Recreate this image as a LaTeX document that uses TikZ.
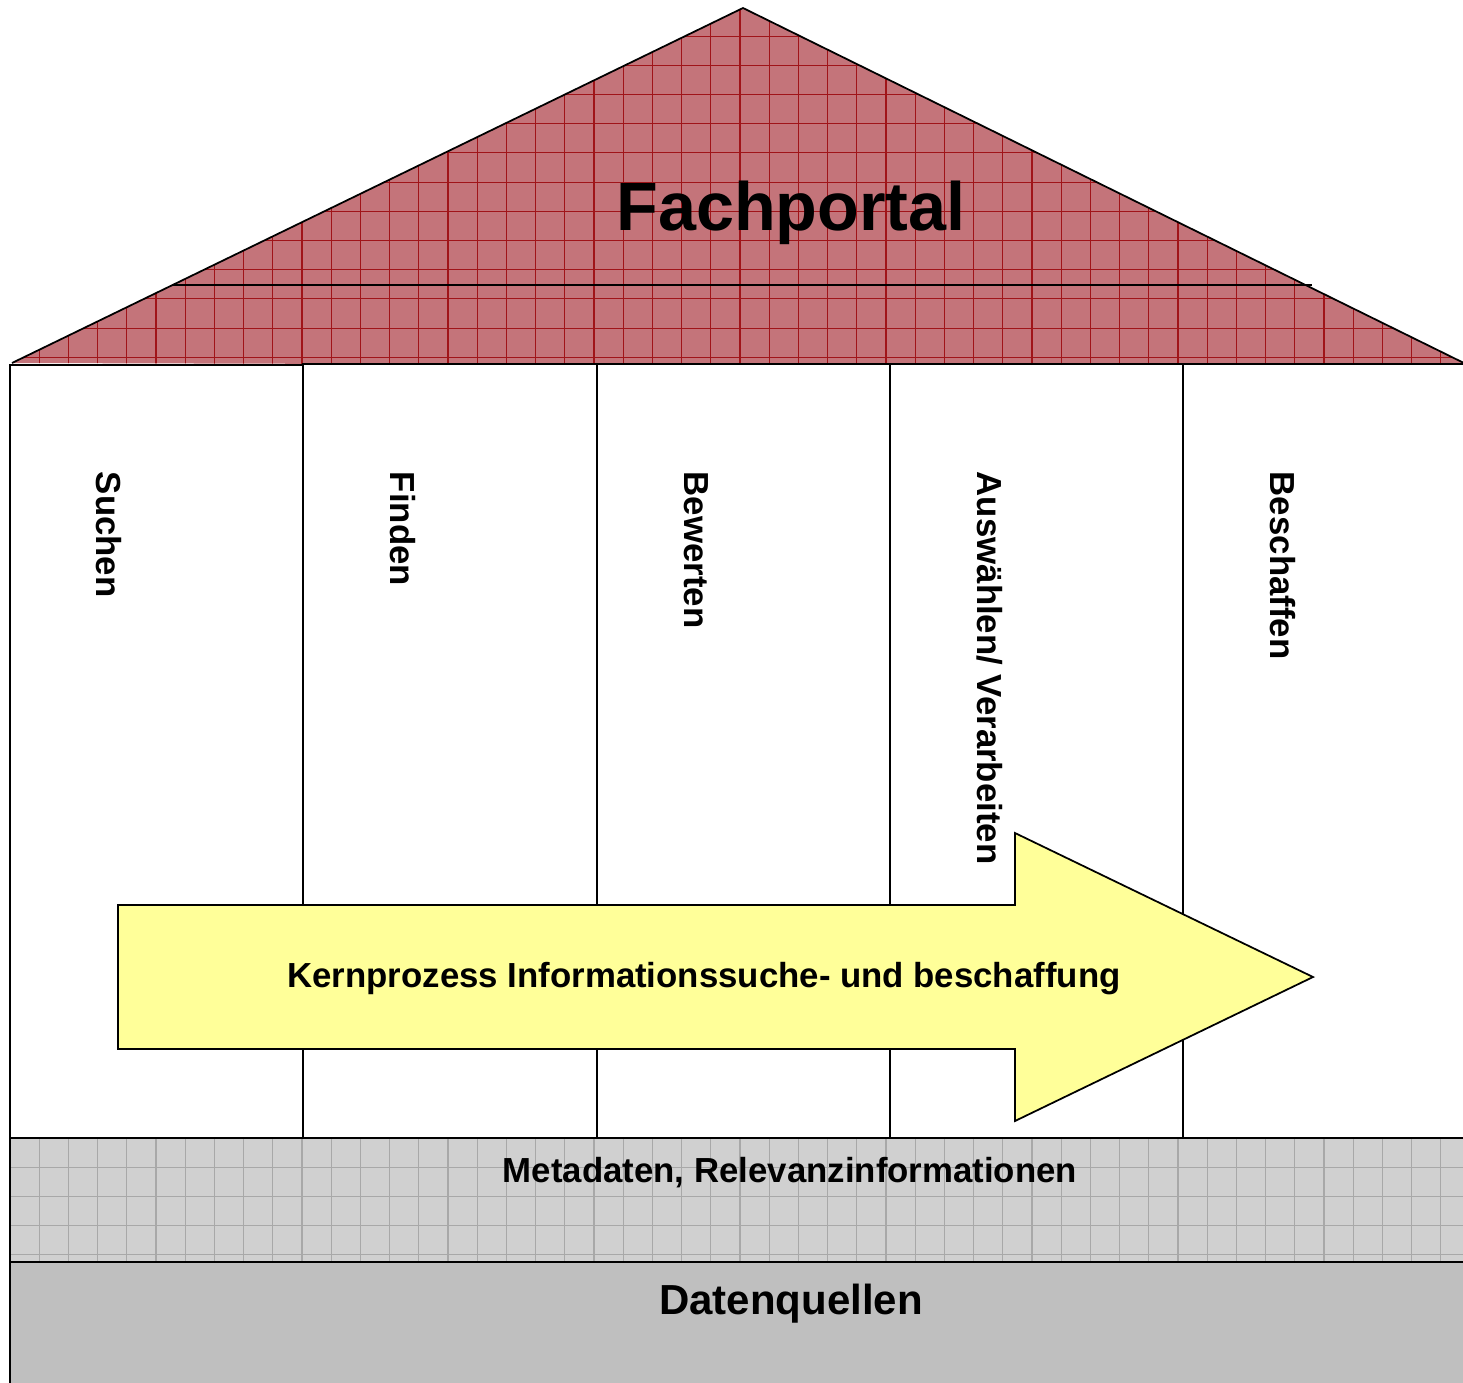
\documentclass[tikz,border=0pt]{standalone}
\usepackage{fontspec}
\setmainfont{Liberation Sans}
\usetikzlibrary{positioning,calc}
\definecolor{roofred}{RGB}{196,116,122}
\definecolor{roofline}{RGB}{160,20,25}
\definecolor{metagray}{RGB}{208,208,208}
\definecolor{metaline}{RGB}{168,168,168}
\definecolor{quellgray}{RGB}{191,191,191}
\definecolor{arrowyellow}{RGB}{255,255,153}
\begin{document}
\begin{tikzpicture}[x=0.02cm,y=-0.02cm,line width=1pt,
    label/.style={font=\fontsize{19.8}{23}\selectfont\bfseries,inner sep=0pt},
    pillarlabel/.style={label,rotate=-90,anchor=base west},
    pillar/.style={draw,fill=white},
    roofgrid/.style={roofline,line width=0.6pt},
    metagrid/.style={metaline,line width=0.6pt}]
  \useasboundingbox (0,0) rectangle (1463,1382);
  % roof
  \coordinate (apex) at (743,8);
  \coordinate (left eave) at (12,363);
  \coordinate (right eave) at (1472,367);
  \coordinate (beam left) at ($(apex)!0.78!(left eave)$);
  \coordinate (beam right) at ($(apex)!0.78!(right eave)$);
  \fill[roofred] (left eave) -- (apex) -- (right eave) -- cycle;
  \begin{scope}
    \clip (left eave) -- (apex) -- (right eave) -- cycle;
    \foreach \i in {0,...,50}
      \draw[roofgrid] ({10+29.2*\i},0) -- ({10+29.2*\i},370);
    \foreach \i in {0,...,12}
      \draw[roofgrid] (0,{357.3-29.2*\i}) -- (1470,{357.3-29.2*\i});
  \end{scope}
  \draw (left eave) -- (apex) -- (right eave);
  \draw (beam left) -- (beam left -| beam right);
  \node[label,font=\fontsize{38.9}{44}\selectfont\bfseries] (Fachportal) at (791,213) {Fachportal};
  % pillars
  \draw[pillar] (10,365) rectangle (303,1138);
  \draw[pillar] (303,364) rectangle (597,1138);
  \draw[pillar] (597,364) rectangle (890,1138);
  \draw[pillar] (890,364) rectangle (1183,1138);
  \draw[pillar] (1183,364) rectangle (1470,1138);
  \node[pillarlabel] (Suchen) at (96,471) {Suchen};
  \node[pillarlabel] (Finden) at (390,471) {Finden};
  \node[pillarlabel] (Bewerten) at (684,471) {Bewerten};
  \node[pillarlabel] (Auswaehlen) at (977,471) {Auswählen/ Verarbeiten};
  \node[pillarlabel] (Beschaffen) at (1270,471) {Beschaffen};
  % process arrow
  \draw[fill=arrowyellow] (118,905) -- (1015,905) -- (1015,833) -- (1313,977)
    -- (1015,1121) -- (1015,1049) -- (118,1049) -- cycle;
  \node[label] (Kernprozess) at (704,979) {Kernprozess Informationssuche- und beschaffung};
  % foundation
  \fill[metagray] (10,1138) rectangle (1470,1262);
  \begin{scope}
    \clip (10,1138) rectangle (1470,1262);
    \foreach \i in {0,...,50}
      \draw[metagrid] ({10+29.2*\i},1138) -- ({10+29.2*\i},1262);
    \foreach \i in {1,...,4}
      \draw[metagrid] (10,{1138+29.2*\i}) -- (1470,{1138+29.2*\i});
  \end{scope}
  \draw (10,1138) rectangle (1470,1262);
  \node[label] (Metadaten) at (790,1173) {Metadaten, Relevanzinformationen};
  \draw[fill=quellgray] (10,1262) rectangle (1470,1400);
  \node[label,font=\fontsize{23.9}{28}\selectfont\bfseries] (Datenquellen) at (791,1304) {Datenquellen};
\end{tikzpicture}
\end{document}
